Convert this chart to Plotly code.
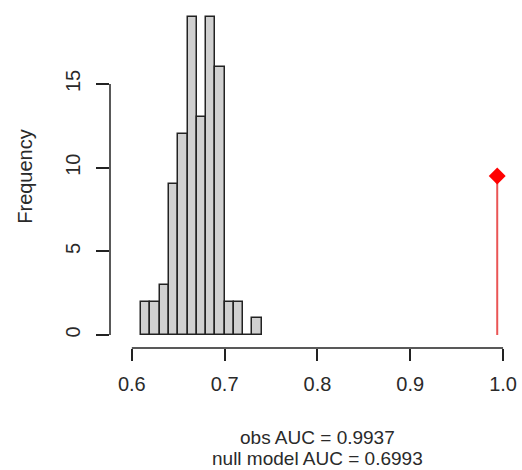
import plotly.graph_objects as go

# Histogram of null-model AUCs (bin width 0.01)
bin_starts = [0.61, 0.62, 0.63, 0.64, 0.65, 0.66, 0.67, 0.68, 0.69, 0.70, 0.71, 0.72, 0.73]
counts = [2, 2, 3, 9, 12, 19, 13, 19, 16, 2, 2, 0, 1]
bin_width = 0.01

obs_auc = 0.9937
null_auc = 0.6993
obs_marker_height = 9.5

x_ticks = [0.6, 0.7, 0.8, 0.9, 1.0]
x_tick_labels = ["0.6", "0.7", "0.8", "0.9", "1.0"]
y_ticks = [0, 5, 10, 15]

font_family = "Liberation Sans, Arial, sans-serif"
text_color = "#2a2a2a"

fig = go.Figure()

fig.add_trace(go.Bar(
    x=[b + bin_width / 2 for b in bin_starts],
    y=counts,
    width=bin_width,
    marker=dict(color="#d0d0d0", line=dict(color="#222222", width=1.5)),
    showlegend=False,
))

fig.add_trace(go.Scatter(
    x=[obs_auc, obs_auc],
    y=[0, obs_marker_height],
    mode="lines",
    line=dict(color="#ea5555", width=2),
    showlegend=False,
))
fig.add_trace(go.Scatter(
    x=[obs_auc],
    y=[obs_marker_height],
    mode="markers",
    marker=dict(symbol="diamond", color="#ff0000", size=13),
    showlegend=False,
))

# R-style axis lines spanning only the tick range
fig.add_shape(type="line", xref="x", yref="paper",
              x0=x_ticks[0], x1=x_ticks[-1], y0=0, y1=0,
              line=dict(color="#222222", width=1.5))
fig.add_shape(type="line", xref="paper", yref="y",
              x0=0, x1=0, y0=y_ticks[0], y1=y_ticks[-1],
              line=dict(color="#222222", width=1.5))

xmid = (x_ticks[0] + x_ticks[-1]) / 2
fig.add_annotation(
    xref="x", yref="paper", x=xmid, y=-0.2595,
    text=f"obs AUC = {obs_auc:.4f}",
    showarrow=False, yanchor="middle",
    font=dict(family=font_family, size=19, color=text_color),
)
fig.add_annotation(
    xref="x", yref="paper", x=xmid, y=-0.3207,
    text=f"null model AUC = {null_auc:.4f}",
    showarrow=False, yanchor="middle",
    font=dict(family=font_family, size=19, color=text_color),
)

fig.update_layout(
    width=522, height=470,
    margin=dict(l=110, r=6, t=5, b=122),
    plot_bgcolor="white", paper_bgcolor="white",
    bargap=0,
    font=dict(family=font_family, size=20, color=text_color),
    xaxis=dict(
        range=[0.57647, 1.0107],
        tickmode="array", tickvals=x_ticks, ticktext=x_tick_labels,
        ticks="outside", ticklen=12, tickwidth=1.5, tickcolor="#222222",
        showgrid=False, zeroline=False, showline=False,
        tickfont=dict(size=20),
        ticklabelstandoff=6,
    ),
    yaxis=dict(
        range=[-0.777, 19.72],
        tickmode="array", tickvals=y_ticks,
        ticks="outside", ticklen=13, tickwidth=1.5, tickcolor="#222222",
        tickangle=-90,
        showgrid=False, zeroline=False, showline=False,
        tickfont=dict(size=20),
        ticklabelstandoff=8,
        title=dict(text="Frequency", font=dict(size=20), standoff=24),
    ),
)

fig.write_html("out.html")
